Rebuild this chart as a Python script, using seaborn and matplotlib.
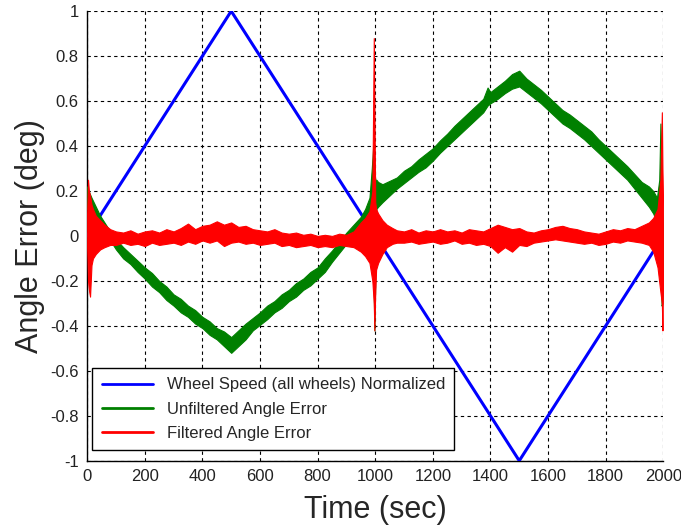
import matplotlib
matplotlib.use('Agg')
import matplotlib.pyplot as plt
from matplotlib.lines import Line2D
import seaborn as sns
import pandas as pd

# wheel speed, normalized (triangle)
speed_t = [0, 500, 1500, 2000]
speed_v = [0.0, 1.0, -1.0, 0.0]

# unfiltered angle error: band (upper / lower edge)
green_t = [0, 5, 15, 30, 45, 60, 80, 100,
           125, 150, 175, 200, 225, 250, 275, 300, 325, 350, 375, 400,
           425, 450, 475, 500, 525, 550, 575, 600, 625, 650, 675, 700,
           725, 750, 775, 800, 825, 850, 875, 900, 925, 950,
           965, 980, 988, 993, 997, 1000, 1004, 1010, 1025,
           1050, 1075, 1100, 1125, 1150, 1175, 1200, 1225, 1250, 1275,
           1300, 1325, 1350, 1375, 1390,
           1400, 1425, 1450, 1475, 1500, 1525, 1550, 1575, 1600, 1625,
           1650, 1675, 1700, 1725, 1750, 1775, 1800, 1825, 1850, 1875,
           1900, 1925, 1950,
           1965, 1978, 1986, 1990, 1994, 1997, 2000]
green_hi = [0.22, 0.20, 0.17, 0.13, 0.09, 0.06, 0.02, -0.015,
            -0.05, -0.08, -0.11, -0.14, -0.165, -0.20, -0.225, -0.26, -0.28, -0.31, -0.33, -0.36,
            -0.38, -0.41, -0.425, -0.45, -0.42, -0.39, -0.365, -0.34, -0.31, -0.29, -0.26, -0.24,
            -0.21, -0.19, -0.16, -0.14, -0.10, -0.065, -0.025, 0.015, 0.05, 0.085,
            0.12, 0.17, 0.30, 0.40, 0.30, 0.25, 0.25, 0.24, 0.23,
            0.245, 0.26, 0.29, 0.31, 0.34, 0.365, 0.39, 0.425, 0.455, 0.49,
            0.52, 0.55, 0.58, 0.61, 0.66,
            0.64, 0.665, 0.69, 0.72, 0.735, 0.70, 0.675, 0.65, 0.62, 0.59,
            0.56, 0.54, 0.515, 0.49, 0.465, 0.43, 0.40, 0.37, 0.34, 0.31,
            0.275, 0.24, 0.22,
            0.20, 0.17, 0.25, 0.50, 0.30, 0.10, 0.0]
green_lo = [0.12, 0.13, 0.11, 0.07, 0.04, 0.01, -0.02, -0.06,
            -0.10, -0.125, -0.16, -0.19, -0.225, -0.25, -0.285, -0.31, -0.34, -0.36, -0.39, -0.41,
            -0.44, -0.46, -0.49, -0.52, -0.49, -0.46, -0.42, -0.395, -0.37, -0.34, -0.32, -0.29,
            -0.27, -0.24, -0.22, -0.19, -0.16, -0.115, -0.075, -0.035, 0.0, 0.035,
            0.06, 0.09, 0.10, -0.10, -0.42, -0.20, 0.12, 0.13, 0.15,
            0.18, 0.21, 0.235, 0.26, 0.285, 0.305, 0.335, 0.37, 0.40, 0.43,
            0.46, 0.49, 0.52, 0.55, 0.58,
            0.59, 0.61, 0.635, 0.655, 0.665, 0.64, 0.615, 0.59, 0.56, 0.53,
            0.50, 0.48, 0.455, 0.43, 0.40, 0.37, 0.34, 0.31, 0.28, 0.25,
            0.21, 0.17, 0.13,
            0.10, 0.06, 0.0, -0.10, -0.31, -0.30, -0.10]

# filtered angle error
red_t = [0, 3, 6, 10, 15, 20, 30, 45, 60, 80,
         100, 125, 150, 175, 200, 225, 250, 275, 300, 325, 350, 375,
         400, 425, 450, 475, 500, 525, 550, 575, 600, 625, 650, 675,
         700, 725, 750, 775, 800, 825, 850, 875, 900, 925,
         950, 965, 980, 990, 995, 997, 1000, 1003, 1010, 1025, 1040, 1060, 1075,
         1100, 1125, 1150, 1175, 1200, 1225, 1250, 1275, 1300, 1325, 1350, 1375,
         1400, 1425, 1450, 1475, 1500, 1525, 1550, 1575, 1600, 1625, 1650, 1675,
         1700, 1725, 1750, 1775, 1800, 1825, 1850, 1875, 1900, 1925,
         1950, 1965, 1980, 1990, 1995, 1997, 2000]
red_hi = [0.10, 0.25, 0.20, 0.18, 0.14, 0.12, 0.09, 0.07, 0.05, 0.03,
          0.02, 0.015, 0.025, 0.01, 0.02, 0.025, 0.015, 0.03, 0.02, 0.035, 0.055, 0.03,
          0.045, 0.05, 0.065, 0.05, 0.06, 0.04, 0.045, 0.03, 0.025, 0.02, 0.03, 0.015,
          0.01, 0.015, 0.005, 0.01, 0.0, 0.005, 0.0, 0.01, 0.005, 0.02,
          0.06, 0.08, 0.11, 0.20, 0.88, 0.60, 0.15, 0.12, 0.10, 0.07, 0.05, 0.035, 0.025,
          0.02, 0.03, 0.015, 0.025, 0.02, 0.03, 0.02, 0.025, 0.015, 0.03, 0.025, 0.02,
          0.035, 0.05, 0.04, 0.03, 0.035, 0.02, 0.015, 0.025, 0.03, 0.04, 0.045, 0.035,
          0.03, 0.02, 0.015, 0.01, 0.02, 0.03, 0.025, 0.035, 0.03, 0.045,
          0.06, 0.08, 0.12, 0.25, 0.55, 0.30, 0.10]
red_lo = [-0.05, -0.20, -0.24, -0.27, -0.13, -0.10, -0.08, -0.06, -0.05, -0.04,
          -0.04, -0.03, -0.04, -0.035, -0.045, -0.03, -0.04, -0.035, -0.03, -0.04, -0.025, -0.035,
          -0.02, -0.03, -0.02, -0.045, -0.03, -0.025, -0.035, -0.03, -0.04, -0.035, -0.03, -0.045,
          -0.04, -0.05, -0.045, -0.04, -0.05, -0.045, -0.05, -0.04, -0.045, -0.05,
          -0.07, -0.09, -0.12, -0.20, -0.30, -0.42, -0.25, -0.15, -0.12, -0.08, -0.05, -0.035, -0.03,
          -0.03, -0.025, -0.035, -0.03, -0.025, -0.035, -0.03, -0.02, -0.035, -0.03, -0.04, -0.035,
          -0.045, -0.075, -0.05, -0.07, -0.04, -0.045, -0.03, -0.025, -0.02, -0.015, -0.02, -0.025,
          -0.03, -0.035, -0.03, -0.04, -0.035, -0.025, -0.03, -0.02, -0.025, -0.03,
          -0.04, -0.07, -0.14, -0.25, -0.30, -0.42, -0.10]

labels = ['Wheel Speed (all wheels) Normalized',
          'Unfiltered Angle Error',
          'Filtered Angle Error']
colors = ['#0000ff', '#008000', '#ff0000']

x_ticks = [0, 200, 400, 600, 800, 1000, 1200, 1400, 1600, 1800, 2000]
y_ticks = [-1, -0.8, -0.6, -0.4, -0.2, 0, 0.2, 0.4, 0.6, 0.8, 1]
y_ticklabels = ['-1', '-0.8', '-0.6', '-0.4', '-0.2', '0', '0.2', '0.4', '0.6', '0.8', '1']

sns.set_style('white')
plt.rcParams['font.family'] = ['Liberation Sans', 'DejaVu Sans']

fig = plt.figure(figsize=(6.81, 5.29), dpi=100)
ax = fig.add_axes([0.128, 0.129, 0.846, 0.850])

speed = pd.DataFrame({'t': speed_t, 'v': speed_v})
sns.lineplot(data=speed, x='t', y='v', color=colors[0], lw=2.2, ax=ax, zorder=3)

ax.fill_between(green_t, green_lo, green_hi, color=colors[1], lw=0.8, zorder=4)
ax.fill_between(red_t, red_lo, red_hi, color=colors[2], lw=0.8, zorder=5)

ax.set_xlim(0, 2000)
ax.set_ylim(-1, 1)
ax.set_xticks(x_ticks)
ax.set_yticks(y_ticks)
ax.set_yticklabels(y_ticklabels)
ax.tick_params(direction='in', length=4, width=0.8, labelsize=12,
               colors='black', labelcolor='#222222', pad=6)

ax.grid(True, color='black', linestyle=(0, (3, 3)), linewidth=0.8)
ax.set_axisbelow(True)
for side in ['top', 'right']:
    ax.spines[side].set_visible(False)
for side in ['left', 'bottom']:
    ax.spines[side].set_color('black')
    ax.spines[side].set_linewidth(1.0)

ax.set_xlabel('Time (sec)', fontsize=22, labelpad=8)
ax.set_ylabel('Angle Error (deg)', fontsize=22, labelpad=4)

handles = [Line2D([], [], color=c, lw=2) for c in colors]
leg = ax.legend(handles, labels, loc='lower left', bbox_to_anchor=(0.009, 0.024),
                borderaxespad=0, fontsize=12, frameon=True, fancybox=False,
                handlelength=3.1, labelspacing=0.55, borderpad=0.55)
leg.get_frame().set_edgecolor('black')
leg.get_frame().set_linewidth(1.0)
leg.get_frame().set_alpha(1)
leg.set_zorder(10)

fig.savefig('out.png', dpi=100)
